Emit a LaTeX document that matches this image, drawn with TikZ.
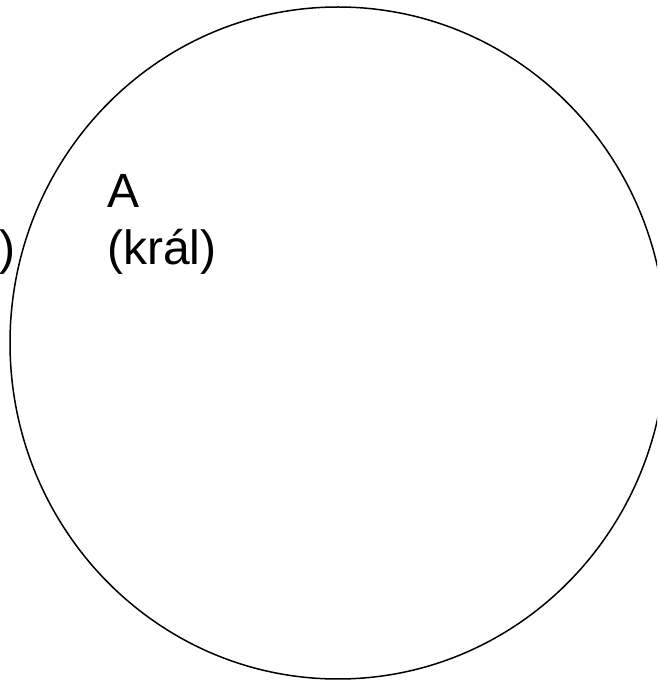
\documentclass[tikz,border=0pt]{standalone}
\usepackage{fontspec}
\setmainfont{Liberation Sans}
\usetikzlibrary{positioning}
\tikzset{
    label/.style={inner sep=0pt, font=\fontsize{48}{57}\selectfont, align=left},
    border/.style={draw=black, line width=1.5pt}
}

\begin{document}
\begin{tikzpicture}[x=1pt, y=1pt]
        	\useasboundingbox (0,0) rectangle (657,681);
        	\clip (0,0) rectangle (657,681);
        	% kruh kralovstvi
        	\draw[border] (338,338) ellipse [x radius=328, y radius=336];
        	\node (king) [label, anchor=base west] at (107,416) {A\\(král)};
        	\node (other) [label, anchor=base east] at (16,416) {)};
        \end{tikzpicture}
\end{document}
